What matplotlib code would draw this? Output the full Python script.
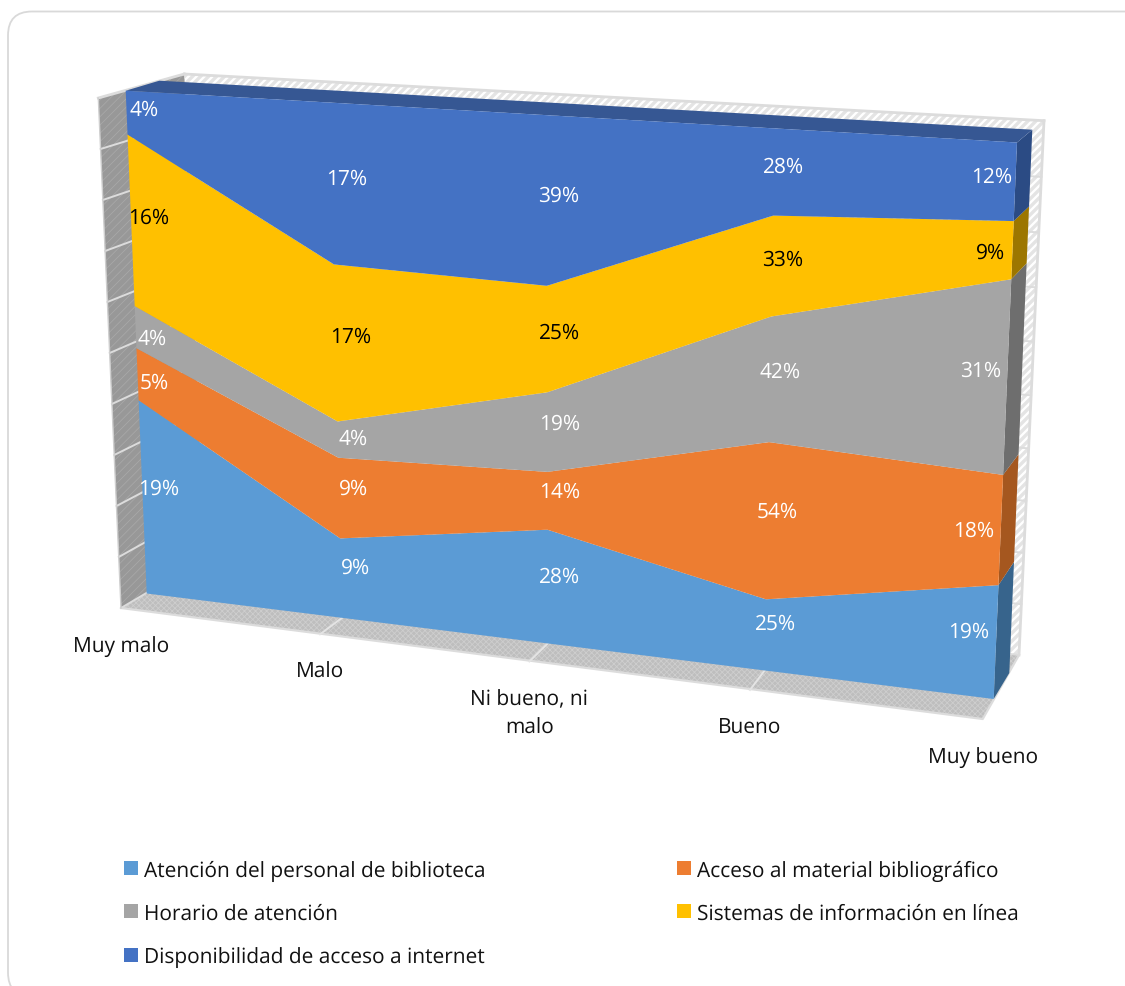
import matplotlib
matplotlib.use('Agg')
import matplotlib.pyplot as plt
import numpy as np
from matplotlib.patches import FancyBboxPatch, Polygon, Rectangle

plt.rcParams['font.family'] = ['Open Sans', 'DejaVu Sans']
plt.rcParams['hatch.linewidth'] = 0.6
plt.rcParams['text.hinting'] = 'no_hinting'

# Data
categories = ['Muy malo', 'Malo', 'Ni bueno, ni\nmalo', 'Bueno', 'Muy bueno']
series_names = ['Atención del personal de biblioteca', 'Acceso al material bibliográfico',
                'Horario de atención', 'Sistemas de información en línea',
                'Disponibilidad de acceso a internet']
atencion = [19, 9, 28, 25, 19]
acceso = [5, 9, 14, 54, 18]
horario = [4, 4, 19, 42, 31]
sistemas = [16, 17, 25, 33, 9]
internet = [4, 17, 39, 28, 12]
series = [atencion, acceso, horario, sistemas, internet]

colors = ['#5B9BD5', '#ED7D31', '#A5A5A5', '#FFC000', '#4472C4']
side_colors = ['#37648C', '#A5571F', '#6E6E6E', '#9C7600', '#2B4B84']
label_colors = ['white', 'white', 'white', 'black', 'white']
top_color = '#365793'
text_color = '#111111'
frame = '#DCDCDC'

# (series, category): pixels a value label moves away from its band centre
label_shift = {(2, 0): (1, 18), (1, 0): (1, 16), (3, 0): (2, 2), (4, 0): (2, 1),
               (2, 1): (1, 7), (3, 4): (5, 9), (1, 4): (0, 10), (4, 4): (3, 0)}


def homography(bl, br, tr, tl):
    # maps the unit square onto a quadrilateral given in figure pixels
    src = [(0, 0), (1, 0), (1, 1), (0, 1)]
    A, b = [], []
    for (u, v), (px, py) in zip(src, [bl, br, tr, tl]):
        A.append([u, v, 1, 0, 0, 0, -u * px, -v * px])
        A.append([0, 0, 0, u, v, 1, -u * py, -v * py])
        b += [px, py]
    h = np.linalg.solve(np.array(A, float), np.array(b, float))
    return np.append(h, 1).reshape(3, 3)


def project(H, u, v):
    u = np.asarray(u, float)
    v = np.asarray(v, float)
    w = H[2, 0] * u + H[2, 1] * v + H[2, 2]
    return (H[0, 0] * u + H[0, 1] * v + H[0, 2]) / w, (H[1, 0] * u + H[1, 1] * v + H[1, 2]) / w


def floor_edge(u):
    # point on the near floor edge below position u of the area
    x, y = project(front, u, 0)
    return x - 25.7 + 14.7 * u, y + 15 + 6 * u


# Planes of the 3D box
front = homography((146.7, 594.5), (993.7, 700), (1017, 143.5), (125.7, 91.7))
back = homography((180, 571), (1009.3, 674), (1032.3, 130.7), (159.3, 81.7))
middle = (front + back) / 2
wall_back = homography((204, 560), (1019, 656), (1044, 121.7), (184.3, 75))
floor = homography((121, 609), (982.7, 720), (1019, 656), (204, 560))
wall_left_corners = [(98.3, 99), (184.3, 75), (204, 560), (121, 609)]

fig = plt.figure(figsize=(11.25, 9.87), dpi=100)
ax = fig.add_axes([0, 0, 1, 1])

# Rounded chart frame
ax.add_patch(FancyBboxPatch((8, 12.5), 1160, 985, boxstyle='round,pad=0,rounding_size=24',
                            fc='white', ec='#D9D9D9', lw=1.3, zorder=0))

# Walls and floor
back_patch = Polygon(np.column_stack(project(wall_back, [0, 1, 1, 0], [0, 0, 1, 1])),
                     fc='white', lw=0, zorder=1)
ax.add_patch(back_patch)
for c in range(150, 1900, 8):
    stripe, = ax.plot([c - 800, c], [800, 0], color='#E4E4E4', lw=2.4, zorder=1.5)
    stripe.set_clip_path(back_patch)
ax.add_patch(Polygon(wall_left_corners, fc='#989898', ec='#A8A8A8', hatch='////', lw=0, zorder=1))
ax.add_patch(Polygon(np.column_stack(project(floor, [0, 1, 1, 0], [0, 0, 1, 1])),
                     fc='#BEBEBE', ec='#CECECE', hatch='xxxxxx', lw=0, zorder=2))

ticks = np.arange(0, 101, 10) / 100
for t in ticks:
    wx, wy = project(wall_back, [0, 1], [t, t])
    ax.plot(wx, wy, color=frame, lw=2 if t == 1 else 1.4, zorder=3)
    lx = [wall_left_corners[3][0] + t * (wall_left_corners[0][0] - wall_left_corners[3][0]),
          wall_left_corners[2][0] + t * (wall_left_corners[1][0] - wall_left_corners[2][0])]
    ly = [wall_left_corners[3][1] + t * (wall_left_corners[0][1] - wall_left_corners[3][1]),
          wall_left_corners[2][1] + t * (wall_left_corners[1][1] - wall_left_corners[2][1])]
    ax.plot(lx, ly, color=frame, lw=2 if t == 1 else 1.4, zorder=3)

# Frame edges
rx, ry = project(wall_back, [1, 1], [0, 1])
ax.plot(rx, ry, color=frame, lw=2, zorder=3)
fx, fy = project(floor, [0, 1, 1], [0, 0, 1])
ax.plot(fx, fy, color=frame, lw=1.6, zorder=3)
ax.plot([121, 98.3], [609, 99], color='#CFCFCF', lw=1, zorder=3)

# Category ticks on the floor
pos = np.arange(len(categories)) / (len(categories) - 1)
for u in pos[1:-1]:
    ex, ey = floor_edge(u)
    bx, by = project(front, u, 0)
    ax.plot([ex, bx], [ey, by], color='#E4E4E4', lw=1.4, zorder=3)

# Stacked bands, as share of each category total
values = np.array(series, float)
totals = values.sum(axis=0)
cum = np.vstack([np.zeros(len(categories)), np.cumsum(values, axis=0) / totals])

for i in range(len(series)):
    lx, ly = project(front, pos, cum[i])
    ux, uy = project(front, pos, cum[i + 1])
    ax.fill(np.r_[lx, ux[::-1]], np.r_[ly, uy[::-1]], color=colors[i], lw=0, zorder=5)

    # right side of the band
    sx0, sy0 = project(front, [1, 1], [cum[i, -1], cum[i + 1, -1]])
    sx1, sy1 = project(back, [1, 1], [cum[i + 1, -1], cum[i, -1]])
    ax.fill(np.r_[sx0, sx1], np.r_[sy0, sy1], color=side_colors[i], lw=0, zorder=4)

# Top side of the last band
tx0, ty0 = project(front, [0, 1], [1, 1])
tx1, ty1 = project(back, [1, 0], [1, 1])
ax.fill(np.r_[tx0, tx1], np.r_[ty0, ty1], color=top_color, lw=0, zorder=4)

# Value labels, pulled inwards at both ends of the area
for i, vals in enumerate(series):
    for j, v in enumerate(vals):
        c = (cum[i, j] + cum[i + 1, j]) / 2
        x, y = project(middle, pos[j], c)
        x0, _ = project(front, pos[j], c)
        if j == 0:
            x = x0 + 15.5
        elif j == len(categories) - 1:
            x = x0 - 27
        dx, dy = label_shift.get((i, j), (0, 0))
        ax.text(x + dx, y + 1 + dy, '%d%%' % v, color=label_colors[i], ha='center', va='center',
                fontsize=15, zorder=10)

# Category labels under the floor edge
for u, name in zip(pos, categories):
    x, y = floor_edge(u)
    ax.text(x, y + 27, name, ha='center', va='top', fontsize=15, color=text_color,
            linespacing=1.45, zorder=10)

# Legend
legend_rows = [(0, 124, 869), (1, 677, 869), (2, 124, 912), (3, 677, 912), (4, 124, 956)]
for i, x, y in legend_rows:
    ax.add_patch(Rectangle((x, y - 7), 14, 14, fc=colors[i], lw=0, zorder=10))
    ax.text(x + 20, y + 2, series_names[i], ha='left', va='center', fontsize=15,
            color=text_color, zorder=10)

ax.set_xlim(0, 1125)
ax.set_ylim(987, 0)
ax.axis('off')

plt.savefig('out.png', dpi=100)
